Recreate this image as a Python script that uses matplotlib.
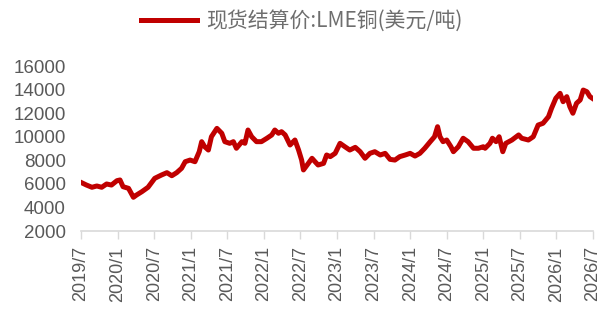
import matplotlib
matplotlib.use("Agg")
import matplotlib.pyplot as plt
import numpy as np

# D A T A ----------------------------------------------------------
# x = months since 2019/7
months = [0.1, 0.9, 1.8, 2.6, 3.4, 4.2, 5.0, 5.9, 6.4, 6.9, 7.8, 8.6, 9.1, 10.0,
          11.0, 12.1, 13.2, 14.1, 14.9, 15.7, 16.5, 17.1, 17.9, 18.7, 19.4, 19.8,
          20.3, 20.9, 21.4, 22.3, 23.1, 23.6, 24.4, 25.0, 25.5, 26.4, 26.9, 27.4,
          28.0, 28.8, 29.6, 30.5, 31.3, 31.8, 32.4, 32.9, 33.5, 34.3, 35.1, 35.7,
          36.2, 36.5, 37.3, 37.9, 38.4, 38.9, 39.8, 40.3, 40.9, 41.7, 42.5, 43.3,
          44.1, 45.0, 45.8, 46.6, 47.4, 48.2, 49.1, 49.9, 50.7, 51.5, 52.3, 53.2,
          54.0, 54.8, 55.6, 56.4, 57.3, 58.0, 58.5, 58.9, 59.4, 60.0, 60.7, 61.1,
          61.9, 62.7, 63.5, 64.4, 65.2, 66.0, 66.3, 67.1, 67.5, 68.1, 68.6, 69.2,
          69.7, 70.7, 71.8, 72.3, 73.4, 74.2, 75.0, 75.8, 76.7, 77.2, 77.9, 78.6,
          79.1, 79.7, 80.2, 80.7, 81.3, 81.9, 82.4, 83.0, 83.5, 83.9]
price = [6100, 5900, 5710, 5820, 5710, 5990, 5900, 6270, 6330, 5760, 5620, 4860, 5050, 5340,
         5710, 6470, 6750, 6950, 6690, 6950, 7320, 7880, 8020, 7880, 8730, 9580,
         9150, 8870, 10000, 10710, 10290, 9580, 9440, 9580, 9020, 9580, 9440, 10570,
         10000, 9580, 9580, 9870, 10150, 10570, 10290, 10430, 10150, 9300, 9720, 8870,
         8020, 7180, 7740, 8170, 7880, 7600, 7740, 8450, 8310, 8590, 9440, 9150,
         8870, 9100, 8730, 8170, 8590, 8730, 8450, 8590, 8080, 8020, 8310, 8450,
         8590, 8360, 8590, 9020, 9580, 10000, 10850, 10000, 9580, 9720, 9150, 8730,
         9150, 9870, 9580, 9020, 9020, 9150, 9020, 9440, 9870, 9580, 10000, 8730,
         9440, 9720, 10150, 9870, 9720, 10000, 10990, 11140, 11700, 12410, 13260, 13680,
         12970, 13400, 12550, 11990, 12840, 13120, 13960, 13820, 13400, 13260]

tick_labels = ["2019/7", "2020/1", "2020/7", "2021/1", "2021/7", "2022/1", "2022/7",
               "2023/1", "2023/7", "2024/1", "2024/7", "2025/1", "2025/7", "2026/1", "2026/7"]
y_ticks = [2000, 4000, 6000, 8000, 10000, 12000, 14000, 16000]

series_name = "现货结算价:LME铜(美元/吨)"

# S T Y L E --------------------------------------------------------
RED = "#C00000"
GREY_TEXT = "#595959"
GREY_LEGEND = "#6E6E6E"
GREY_AXIS = "#D9D9D9"

plt.rcParams["font.family"] = ["Liberation Sans", "DejaVu Sans"]

fig = plt.figure(figsize=(6.03, 3.09), dpi=100)
ax = fig.add_axes([0.1343, 0.2524, 0.8491, 0.534])

ax.plot(months, price, color=RED, linewidth=3.6, label=series_name)

ax.set_xlim(0, 84)
ax.set_ylim(2000, 16000)

ax.set_xticks(np.arange(0, 85, 6))
ax.set_xticklabels(tick_labels, rotation=90, fontsize=13, color=GREY_TEXT)
ax.set_yticks(y_ticks)
ax.set_yticklabels([str(v) for v in y_ticks], fontsize=13.5, color=GREY_TEXT)

ax.tick_params(axis="x", length=6, width=1, color=GREY_AXIS, pad=5)
ax.tick_params(axis="y", length=0, pad=11)

for side in ["top", "right", "left"]:
    ax.spines[side].set_visible(False)
ax.spines["bottom"].set_color(GREY_AXIS)
ax.spines["bottom"].set_linewidth(1.2)

# legend on top, centred
leg = fig.legend(loc="center", bbox_to_anchor=(0.5, 0.932), frameon=False,
                 handlelength=2.7, handletextpad=0.45,
                 prop={"family": ["Noto Sans CJK SC", "DejaVu Sans"], "size": 15})
for t in leg.get_texts():
    t.set_color(GREY_LEGEND)

fig.savefig("out.png", dpi=100)
